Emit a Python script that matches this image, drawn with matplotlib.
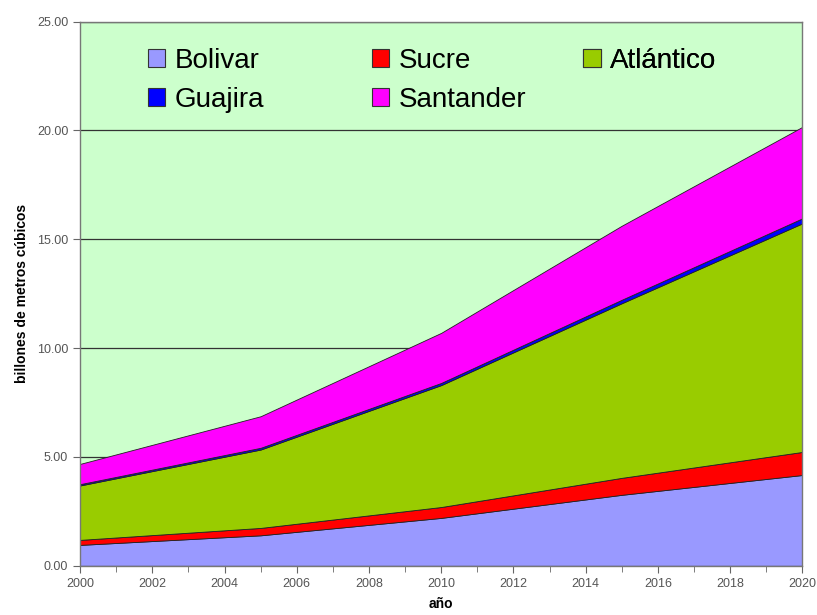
import numpy as np
import matplotlib
matplotlib.use("Agg")
import matplotlib.pyplot as plt
from matplotlib.patches import Patch

plt.rcParams['font.family'] = ['Liberation Sans', 'DejaVu Sans']

years = [2000, 2005, 2010, 2015, 2020]
bolivar = [0.96, 1.40, 2.20, 3.26, 4.17]
sucre = [0.23, 0.34, 0.50, 0.78, 1.06]
atlantico = [2.50, 3.60, 5.60, 8.02, 10.50]
guajira = [0.06, 0.08, 0.10, 0.16, 0.23]
santander = [0.93, 1.45, 2.30, 3.40, 4.20]

names = ['Bolivar', 'Sucre', 'Atlántico', 'Guajira', 'Santander']
colors = ['#9999FF', '#FF0000', '#99CC00', '#0000FF', '#FF00FF']

fig = plt.figure(figsize=(8.17, 6.15), dpi=100)
ax = fig.add_axes([0.098, 0.080, 0.884, 0.885])
ax.set_facecolor('#CCFFCC')

# stacked areas
series = [bolivar, sucre, atlantico, guajira, santander]
base = np.zeros(len(years))
for vals, c in zip(series, colors):
    top = base + np.array(vals)
    ax.fill_between(years, base, top, facecolor=c, edgecolor='#222222', linewidth=0.6, zorder=2)
    base = top

ax.set_xlim(2000, 2020)
ax.set_ylim(0, 25)
ax.set_yticks(np.arange(0, 26, 5))
ax.set_yticklabels(['%.2f' % v for v in np.arange(0, 26, 5)])
ax.set_xticks(range(2000, 2021, 2))
ax.set_xticks(range(2000, 2021, 1), minor=True)
ax.grid(axis='y', color='#333333', linewidth=0.9, zorder=1)
ax.set_axisbelow(True)

ax.tick_params(axis='both', which='both', direction='out', colors='#666666', labelcolor='#555555', labelsize=9)
ax.tick_params(axis='x', which='major', length=5)
ax.tick_params(axis='x', which='minor', length=4)
ax.tick_params(axis='y', length=5)
for s in ax.spines.values():
    s.set_color('#777777')
    s.set_linewidth(1.0)

ax.set_ylabel('billones de metros cúbicos', fontsize=10, fontweight='bold', labelpad=6)
ax.set_xlabel('año', fontsize=10, fontweight='bold', labelpad=5)

# legend: one column per legend so the columns sit where the reference has them
cols = [[0, 3], [1, 4], [2]]
col_x = [0.094, 0.404, 0.697]
for idx, x in zip(cols, col_x):
    hs = [Patch(facecolor=colors[i], edgecolor='#333333', linewidth=0.8) for i in idx]
    lg = ax.legend(hs, [names[i] for i in idx], loc='upper left', bbox_to_anchor=(x, 0.951),
                   frameon=False, fontsize=20, handlelength=0.62, handleheight=0.62,
                   handletextpad=0.35, labelspacing=0.45, borderpad=0, borderaxespad=0)
    ax.add_artist(lg)

fig.savefig('out.png', dpi=100)
